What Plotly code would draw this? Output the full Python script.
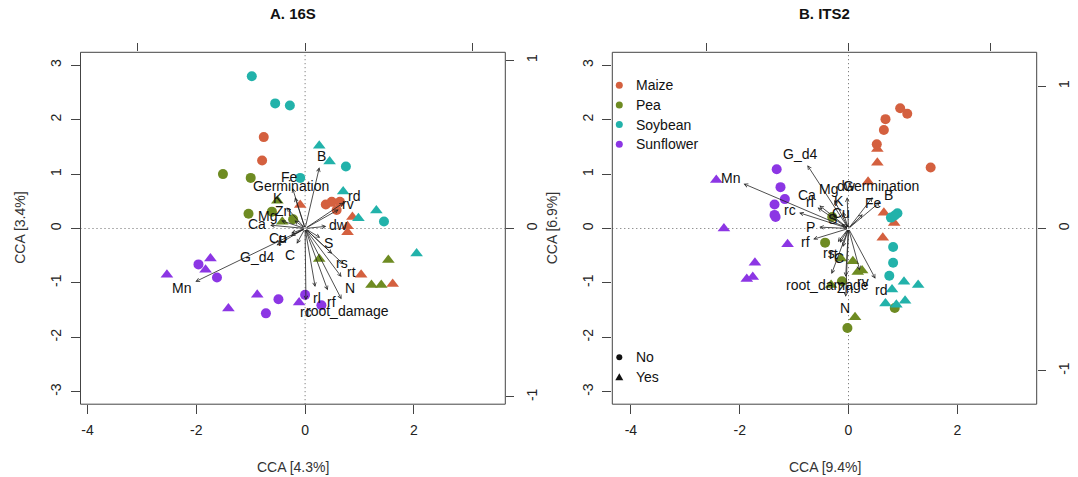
import math
import plotly.graph_objects as go

W, H = 1078, 477
FONT = "Liberation Sans, Arial, Helvetica, sans-serif"
FS = 14

CROPS = ["Maize", "Pea", "Soybean", "Sunflower"]
COLORS = {"Maize": "#D4603F", "Pea": "#6E8B22", "Soybean": "#22B2AA", "Sunflower": "#8C36E4"}
SYMBOLS = {"No": "circle", "Yes": "triangle-up"}

# ---------------- A. 16S sample scores ----------------
s16_x = [-0.76, -0.79, 0.38, 0.49, 0.64, 0.58,
         -0.09, 0.87, 0.78, 0.78, 1.03, 1.61,
         -1.51, -1.00, -1.04, -0.61, -0.22,
         -0.51, -0.42, 0.26, 1.53, 1.22, 1.40,
         -0.98, -0.55, -0.28, 0.75, -0.09, 1.45,
         0.26, 0.45, 0.70, 1.31, 0.98, 2.05,
         -1.96, -1.62, -0.49, -0.72, 0.00, 0.30,
         -2.54, -1.74, -1.83, -1.41, -0.88, -0.11]
s16_y = [1.68, 1.25, 0.44, 0.49, 0.49, 0.34,
         0.43, 0.21, 0.04, -0.07, -0.85, -1.02,
         1.00, 0.93, 0.27, 0.31, 0.17,
         0.51, 0.125, -0.56, -0.58, -1.04, -1.04,
         2.80, 2.30, 2.26, 1.14, 0.93, 0.13,
         1.52, 1.23, 0.68, 0.33, 0.19, -0.46,
         -0.66, -0.90, -1.30, -1.56, -1.22, -1.41,
         -0.85, -0.55, -0.76, -1.47, -1.22, -1.36]
s16_crop = ["Maize"] * 12 + ["Pea"] * 11 + ["Soybean"] * 12 + ["Sunflower"] * 12
s16_status = (["No"] * 6 + ["Yes"] * 6 + ["No"] * 5 + ["Yes"] * 6 +
              ["No"] * 6 + ["Yes"] * 6 + ["No"] * 6 + ["Yes"] * 6)

# 16S environmental arrows (biplot scores)
s16_vars = ["B", "Fe", "Germination", "K", "Zn", "Mg", "Ca", "Cu", "P", "G_d4", "Mn", "C",
            "S", "rs", "rt", "N", "rl", "rf", "root_damage", "rc", "rd", "rv", "dw"]
s16_ax = [0.085, -0.075, -0.06, -0.11, -0.063, -0.143, -0.208, -0.083, -0.085, -0.17, -0.654, -0.05,
          0.09, 0.161, 0.23, 0.217, 0.06, 0.135, 0.217, 0.005, 0.231, 0.20, 0.126]
s16_ay = [0.363, 0.24, 0.185, 0.125, 0.048, 0.047, 0.02, -0.028, -0.045, -0.10, -0.316, -0.09,
          -0.055, -0.15, -0.213, -0.288, -0.347, -0.367, -0.42, -0.426, 0.154, 0.113, 0.013]

# ---------------- B. ITS2 sample scores ----------------
its_x = [0.95, 1.08, 0.68, 0.65, 0.52, 1.51,
         0.53, 0.53, 0.36, 0.65, 0.84, 0.63,
         -0.30, -0.43, -0.12, 0.85, -0.02,
         -0.14, 0.08, 0.25, 0.17, -0.32, 0.12,
         0.90, 0.78, 0.85, 0.82, 0.82, 0.75,
         0.80, 1.02, 1.28, 0.68, 1.04, 0.88,
         -1.32, -1.25, -1.17, -1.36, -1.36, -1.34,
         -2.43, -2.29, -1.12, -1.72, -1.87, -1.76]
its_y = [2.21, 2.11, 2.01, 1.81, 1.55, 1.12,
         1.46, 1.21, 0.86, 0.29, 0.10, -0.17,
         0.21, -0.26, -0.97, -1.46, -1.83,
         -0.55, -0.60, -0.77, -0.80, -1.04, -1.63,
         0.28, 0.20, 0.24, -0.34, -0.63, -0.87,
         -1.12, -0.98, -1.04, -1.38, -1.33, -1.40,
         1.09, 0.76, 0.54, 0.44, 0.25, 0.21,
         0.89, 0.00, -0.29, -0.63, -0.93, -0.89]
its_crop = ["Maize"] * 12 + ["Pea"] * 11 + ["Soybean"] * 12 + ["Sunflower"] * 12
its_status = s16_status[:]

its_vars = ["G_d4", "Mn", "Mg", "dw", "Germination", "B", "Fe", "K", "Ca", "rl", "rc", "Cu",
            "S", "P", "rf", "rs", "rt", "C", "root_damage", "Zn", "rv", "rd", "N"]
its_ax = [-0.29, -0.74, -0.10, -0.01, 0.17, 0.223, 0.10, -0.04, -0.205, -0.218, -0.348, -0.015,
          -0.05, -0.206, -0.249, -0.075, -0.06, -0.04, -0.12, -0.02, 0.08, 0.19, -0.02]
its_ay = [0.445, 0.315, 0.20, 0.22, 0.22, 0.187, 0.10, 0.117, 0.162, 0.147, 0.111, 0.03,
          0.03, 0.01, -0.076, -0.095, -0.10, -0.13, -0.32, -0.34, -0.295, -0.353, -0.48]

# ---------------- layout geometry (pixels) ----------------
PANELS = [
    dict(x=s16_x, y=s16_y, crop=s16_crop, status=s16_status,
         vars=s16_vars, ax=s16_ax, ay=s16_ay,
         box=(80.5, 505.3, 52.3, 404.2), ox=305.1, oy=228.5, ppu=54.4,
         spx=167.8, spy=168.4, title="A. 16S", xt="CCA [4.3%]", yt="CCA [3.4%]",
         ytx=20.5, xtick=[-4, -2, 0, 2],
         ids=("x", "y", "x2", "y2"), legend=False),
    dict(x=its_x, y=its_y, crop=its_crop, status=its_status,
         vars=its_vars, ax=its_ax, ay=its_ay,
         box=(612.3, 1036.7, 52.3, 404.2), ox=848.5, oy=228.5, ppu=54.4,
         spx=141.8, spy=142.2, title="B. ITS2", xt="CCA [9.4%]", yt="CCA [6.9%]",
         ytx=552, xtick=[-4, -2, 0, 2],
         ids=("x3", "y3", "x4", "y4"), legend=True),
]

CHAR_W = {'a': 556, 'b': 556, 'c': 500, 'd': 556, 'e': 556, 'f': 278, 'g': 556, 'h': 556,
          'i': 222, 'j': 222, 'k': 500, 'l': 222, 'm': 833, 'n': 556, 'o': 556, 'p': 556,
          'q': 556, 'r': 333, 's': 500, 't': 278, 'u': 556, 'v': 500, 'w': 722, 'x': 500,
          'y': 500, 'z': 500, '_': 556, 'A': 667, 'B': 667, 'C': 722, 'D': 722, 'E': 667,
          'F': 611, 'G': 778, 'H': 722, 'I': 278, 'K': 667, 'M': 833, 'N': 722, 'P': 667,
          'S': 667, 'Z': 611}


def text_w(s, size=FS):
    return sum(CHAR_W.get(c, 556) for c in s) / 1000.0 * size


def arrow_label_xy(vx, vy, label, sx, sy):
    """vegan-style placement of an arrow label just beyond the arrow head."""
    px, py = vx * sx, vy * sy
    w = text_w(label)
    h = 0.716 * FS * 1.5
    offx = math.copysign(w / 2 + h / 4, px)
    offy = math.copysign(0.75 * h, py)
    b = py / px if px != 0 else math.inf
    move = offy / b if b != 0 else math.inf
    if math.isfinite(move) and abs(move) <= abs(offx):
        offx = move
    else:
        offy = b * offx
    return (px + offx) / sx, (py + offy) / sy


def PX(px):
    return px / W


def PY(py):
    return 1 - py / H


fig = go.Figure()
layout = dict(width=W, height=H, margin=dict(l=0, r=0, t=0, b=0),
              paper_bgcolor="white", plot_bgcolor="white", showlegend=False,
              font=dict(family=FONT, size=FS, color="#1a1a1a"))
annotations = []
shapes = []
AXC = "#444444"
DOT = "1px,3px"

for P in PANELS:
    xa, ya, xs, ys = P["ids"]
    l, r, t, b = P["box"]
    ppu = P["ppu"]
    xr = [(l - P["ox"]) / ppu, (r - P["ox"]) / ppu]
    yr = [(P["oy"] - b) / ppu, (P["oy"] - t) / ppu]
    sxr = [(l - P["ox"]) / P["spx"], (r - P["ox"]) / P["spx"]]
    syr = [(P["oy"] - b) / P["spy"], (P["oy"] - t) / P["spy"]]
    xdom = [PX(l), PX(r)]
    ydom = [PY(b), PY(t)]

    def key(a, kind):
        n = a[1:]
        return kind + "axis" + n

    layout[key(xa, "x")] = dict(domain=xdom, range=xr, anchor=ya, tickmode="array",
                                tickvals=P["xtick"], ticktext=[str(v) for v in P["xtick"]],
                                ticks="outside", ticklen=9, tickcolor=AXC, showgrid=False,
                                zeroline=False, showline=False, automargin=False,
                                ticklabelstandoff=4, tickfont=dict(size=FS, color="#222"))
    layout[key(ya, "y")] = dict(domain=ydom, range=yr, anchor=xa, tickmode="array",
                                tickvals=[-3, -2, -1, 0, 1, 2, 3],
                                ticktext=["-3", "-2", "-1", "0", "1", "2", "3"],
                                ticks="outside", ticklen=9, tickcolor=AXC, showgrid=False,
                                zeroline=False, showline=False, automargin=False, tickangle=-90,
                                ticklabelstandoff=4, tickfont=dict(size=FS, color="#222"))
    layout[key(xs, "x")] = dict(overlaying=xa, side="top", anchor=ya, range=sxr,
                                tickmode="array", tickvals=[-1, 0, 1], showticklabels=False,
                                ticks="outside", ticklen=8, tickcolor=AXC, showgrid=False,
                                zeroline=False, showline=False, automargin=False)
    layout[key(ys, "y")] = dict(overlaying=ya, side="right", anchor=xa, range=syr,
                                tickmode="array", tickvals=[-1, 0, 1], ticktext=["-1", "0", "1"],
                                ticks="outside", ticklen=8, tickcolor=AXC, showgrid=False,
                                zeroline=False, showline=False, automargin=False, tickangle=-90,
                                ticklabelstandoff=6, tickfont=dict(size=FS, color="#222"))

    # zero reference lines
    shapes.append(dict(type="line", xref=xa, yref=ya + " domain", x0=0, x1=0, y0=0, y1=1,
                       line=dict(color="#666", width=1, dash=DOT), layer="below"))
    shapes.append(dict(type="line", xref=xa + " domain", yref=ya, x0=0, x1=1, y0=0, y1=0,
                       line=dict(color="#666", width=1, dash=DOT), layer="below"))
    # box
    shapes.append(dict(type="rect", xref=xa + " domain", yref=ya + " domain", x0=0, x1=1,
                       y0=0, y1=1, line=dict(color=AXC, width=1)))

    # sample points
    for crop in CROPS:
        for st in ["No", "Yes"]:
            idx = [i for i in range(len(P["x"])) if P["crop"][i] == crop and P["status"][i] == st]
            if not idx:
                continue
            fig.add_trace(go.Scatter(
                x=[P["x"][i] for i in idx], y=[P["y"][i] for i in idx],
                xaxis=xa, yaxis=ya, mode="markers",
                marker=dict(symbol=SYMBOLS[st], color=COLORS[crop],
                            size=10 if st == "No" else 11, line=dict(width=0)),
                name=f"{crop} {st}", hoverinfo="skip"))

    # invisible trace that anchors the biplot axes
    fig.add_trace(go.Scatter(x=P["ax"], y=P["ay"], xaxis=xs, yaxis=ys, mode="markers",
                             marker=dict(opacity=0, size=1), hoverinfo="skip"))

    # arrows and labels
    for v, vx, vy in zip(P["vars"], P["ax"], P["ay"]):
        annotations.append(dict(x=vx, y=vy, xref=xs, yref=ys, ax=0, ay=0, axref=xs, ayref=ys,
                                text="", showarrow=True, arrowhead=5, arrowsize=0.9,
                                arrowwidth=0.8, arrowcolor="#222", standoff=0, startstandoff=0))
        lx, ly = arrow_label_xy(vx, vy, v, P["spx"], P["spy"])
        annotations.append(dict(x=lx, y=ly, xref=xs, yref=ys, text=v, showarrow=False,
                                xanchor="center", yanchor="middle",
                                font=dict(size=FS, color="#111")))

    # titles
    cx = (l + r) / 2
    annotations.append(dict(x=PX(cx), y=PY(13), xref="paper", yref="paper", text="<b>" + P["title"] + "</b>",
                            showarrow=False, xanchor="center", yanchor="middle",
                            font=dict(size=15, color="#111")))
    annotations.append(dict(x=PX(cx), y=PY(466.5), xref="paper", yref="paper", text=P["xt"],
                            showarrow=False, xanchor="center", yanchor="middle",
                            font=dict(size=FS, color="#333")))
    annotations.append(dict(x=PX(P["ytx"]), y=PY((t + b) / 2), xref="paper", yref="paper",
                            text=P["yt"], textangle=-90, showarrow=False,
                            xanchor="center", yanchor="middle", font=dict(size=FS, color="#333")))

    if P["legend"]:
        lx0 = l + 7
        for crop, yy in zip(CROPS, [85.3, 105.0, 124.6, 144.3]):
            shapes.append(dict(type="circle", xref="paper", yref="paper",
                               x0=PX(lx0 - 3.5), x1=PX(lx0 + 3.5), y0=PY(yy + 3.5), y1=PY(yy - 3.5),
                               fillcolor=COLORS[crop], line=dict(width=0)))
            annotations.append(dict(x=PX(lx0 + 14.5), y=PY(yy), xref="paper", yref="paper",
                                    text=crop, showarrow=False, xanchor="left", yanchor="middle",
                                    font=dict(size=FS, color="#111")))
        for st, yy in zip(["No", "Yes"], [357.3, 377.3]):
            if st == "No":
                shapes.append(dict(type="circle", xref="paper", yref="paper",
                                   x0=PX(lx0 - 3), x1=PX(lx0 + 3), y0=PY(yy + 3), y1=PY(yy - 3),
                                   fillcolor="#111", line=dict(width=0)))
            else:
                path = "M {} {} L {} {} L {} {} Z".format(
                    PX(lx0 - 4), PY(yy + 3), PX(lx0 + 4), PY(yy + 3), PX(lx0), PY(yy - 4))
                shapes.append(dict(type="path", xref="paper", yref="paper", path=path,
                                   fillcolor="#111", line=dict(width=0)))
            annotations.append(dict(x=PX(lx0 + 14.5), y=PY(yy), xref="paper", yref="paper",
                                    text=st, showarrow=False, xanchor="left", yanchor="middle",
                                    font=dict(size=FS, color="#111")))

layout["annotations"] = annotations
layout["shapes"] = shapes
fig.update_layout(**layout)
fig.write_html("out.html")
